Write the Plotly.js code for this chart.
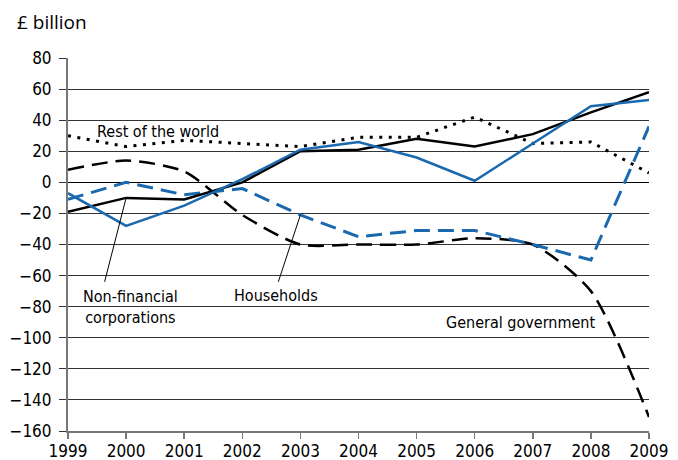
<!DOCTYPE html>
<html>
<head>
<meta charset="utf-8">
<script src="https://cdn.plot.ly/plotly-3.0.1.min.js"></script>
<style>
html,body{margin:0;padding:0;background:#fff}
#chart{width:678px;height:460px}
#chart text { font-stretch: condensed; }
</style>
</head>
<body>
<div id="chart"></div>
<script>
var years = [1999, 2000, 2001, 2002, 2003, 2004, 2005, 2006, 2007, 2008, 2009];
var restOfWorld = [30, 23, 27, 25, 23, 29, 29, 42, 25, 26, 6];
var nonFinancialCorps = [-19, -10, -11, 0, 20, 21, 28, 23, 31, 45, 58];
var financialCorps = [-7, -28, -15, 2, 21, 26, 16, 1, 25, 49, 53];
var households = [-11, 0, -8, -4, -21, -35, -31, -31, -40, -50, 36];
var generalGovernment = [8, 14, 7, -21, -40, -40, -40, -36, -40, -70, -151];
var yTicks = [80, 60, 40, 20, 0, -20, -40, -60, -80, -100, -120, -140, -160];
var yTickText = yTicks.map(function (v) { return v < 0 ? '\u2212' + Math.abs(v) : String(v); });

var blue = '#1a68ad';
var condensed = '"DejaVu Sans Condensed", "DejaVu Sans", sans-serif';

var traces = [
  { name: 'Rest of the world', x: years, y: restOfWorld, mode: 'lines',
    line: { color: '#000', width: 3, dash: '3px,6.5px' } },
  { name: 'General government', x: years, y: generalGovernment, mode: 'lines',
    line: { color: '#000', width: 2.5, dash: '16px,8px', shape: 'spline', smoothing: 0.7 } },
  { name: 'Households', x: years, y: households, mode: 'lines',
    line: { color: blue, width: 3, dash: '16px,8px' } },
  { name: 'Non-financial corporations', x: years, y: nonFinancialCorps, mode: 'lines',
    line: { color: '#000', width: 2.5 } },
  { name: 'Financial corporations', x: years, y: financialCorps, mode: 'lines',
    line: { color: blue, width: 2.5 } }
];

var layout = {
  width: 678, height: 460,
  margin: { l: 68, r: 29, t: 58, b: 29 },
  paper_bgcolor: '#fff', plot_bgcolor: '#fff',
  showlegend: false,
  font: { family: condensed, size: 17, color: '#000' },
  xaxis: {
    range: [1999, 2009], tickvals: years, ticktext: years.map(String),
    showgrid: false, zeroline: false,
    showline: true, linecolor: '#777', linewidth: 2,
    ticks: 'outside', ticklen: 6, tickcolor: '#777', tickwidth: 1.5,
    ticklabelstandoff: -2,
    tickfont: { family: condensed, size: 17, color: '#000' }
  },
  yaxis: {
    range: [-160, 80], tickvals: yTicks, ticktext: yTickText,
    showgrid: true, gridcolor: '#333', gridwidth: 1,
    zeroline: true, zerolinecolor: '#000', zerolinewidth: 1,
    showline: true, linecolor: '#777', linewidth: 2,
    ticks: 'outside', ticklen: 7, tickcolor: '#333', tickwidth: 1,
    ticklabelstandoff: 4,
    tickfont: { family: condensed, size: 17, color: '#000' }
  },
  shapes: [
    { type: 'line', xref: 'x', yref: 'y', x0: years[1], y0: nonFinancialCorps[1], x1: 1999.63, y1: -64,
      line: { color: '#000', width: 1 } },
    { type: 'line', xref: 'x', yref: 'y', x0: years[4], y0: households[4], x1: 2002.62, y1: -64,
      line: { color: '#000', width: 1 } }
  ],
  annotations: [
    { xref: 'paper', yref: 'paper', x: -0.091, y: 1.097, xanchor: 'left', yanchor: 'middle',
      text: '£ billion', showarrow: false,
      font: { family: '"Open Sans", "Noto Sans", sans-serif', size: 19, color: '#000' } },
    { xref: 'x', yref: 'y', x: 1999.47, y: 33, xanchor: 'left', yanchor: 'middle',
      text: 'Rest of the world', showarrow: false, font: { family: condensed, size: 16 } },
    { xref: 'x', yref: 'y', x: 2000.08, y: -80, xanchor: 'center', yanchor: 'middle', align: 'center',
      text: 'Non-financial<br>corporations', showarrow: false, font: { family: condensed, size: 16 } },
    { xref: 'x', yref: 'y', x: 2002.58, y: -73, xanchor: 'center', yanchor: 'middle',
      text: 'Households', showarrow: false, font: { family: condensed, size: 16 } },
    { xref: 'x', yref: 'y', x: 2006.78, y: -90, xanchor: 'center', yanchor: 'middle',
      text: 'General government', showarrow: false, font: { family: condensed, size: 16 } }
  ]
};

Plotly.newPlot('chart', traces, layout, { displayModeBar: false, staticPlot: true }).then(function () {
  var t = document.querySelectorAll('#chart .annotation-text');
  if (t.length) t[0].style.fontStretch = 'normal';
});
</script>
</body>
</html>
